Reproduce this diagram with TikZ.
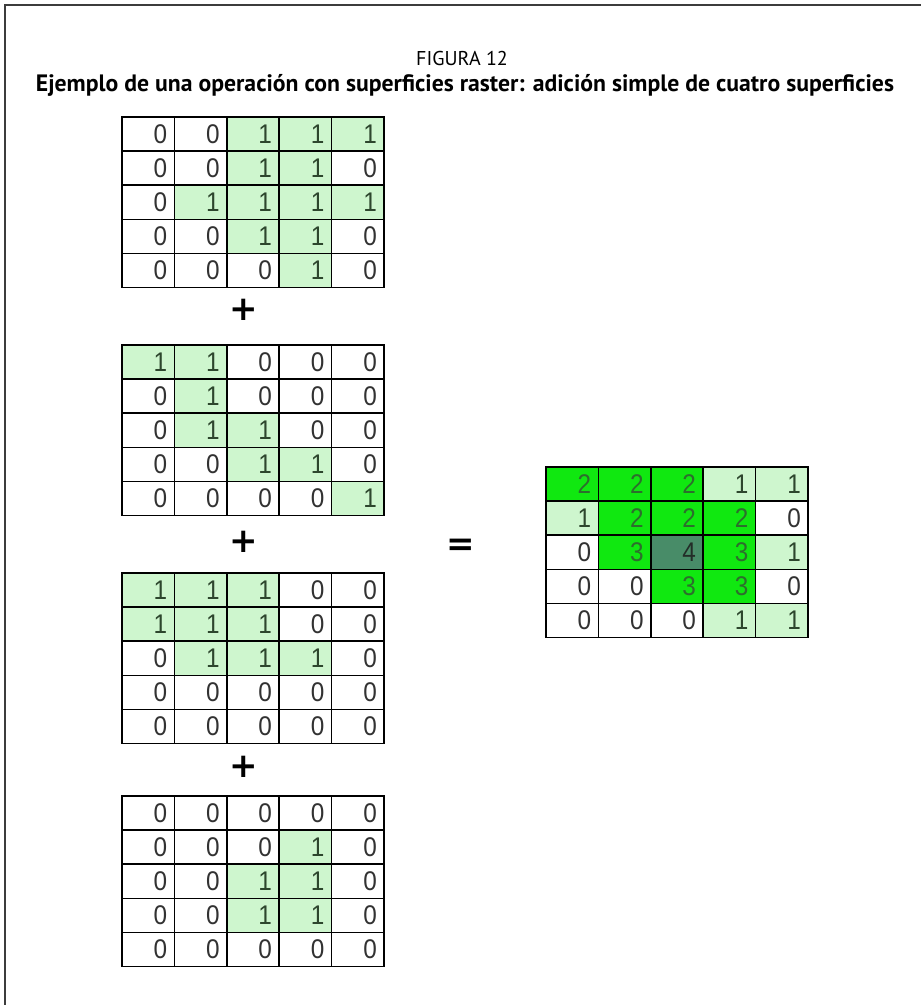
\documentclass[tikz,border=0pt]{standalone}
\usepackage{fontspec}
\setmainfont{PT Sans}
\newfontfamily\numfont[FakeStretch=0.9]{Liberation Sans}
\newfontfamily\symfont{DejaVu Sans}
\definecolor{c0}{RGB}{255,255,255}
\definecolor{c1}{RGB}{206,246,206}
\definecolor{c2}{RGB}{16,232,16}
\definecolor{c3}{RGB}{16,232,16}
\definecolor{c4}{RGB}{72,140,104}
\definecolor{t0}{RGB}{50,50,50}
\definecolor{t1}{RGB}{45,70,45}
\definecolor{t2}{RGB}{45,110,45}
\definecolor{t3}{RGB}{45,110,45}
\definecolor{t4}{RGB}{35,45,40}
\definecolor{framec}{RGB}{60,60,60}
\tikzset{
  cellbox/.style={draw=black, line width=1.6pt, minimum width=52.4pt, minimum height=34.1pt,
    inner sep=0pt, text width=38pt, align=right, font=\numfont\fontsize{27}{29}\selectfont},
  opsign/.style={font=\symfont\bfseries\fontsize{34}{36}\selectfont, inner sep=0pt},
  frameline/.style={draw=framec, line width=1.6pt},
  titletext/.style={inner sep=0pt, anchor=base}
}
\newcommand\rastergrid[4]{%
  \foreach \v [count=\i from 0] in {#4} {%
    \pgfmathtruncatemacro\rr{int(\i/5)}%
    \pgfmathtruncatemacro\cc{mod(\i,5)}%
    \node[cellbox, fill=c\v, text=t\v] (#1-\rr-\cc) at ({#2+\cc*52.4+26.2},{#3+\rr*34.1+17.05}) {\v};
  }%
}
\begin{document}
\begin{tikzpicture}[x=1pt,y=-1pt]
\useasboundingbox (0,0) rectangle (921,1005);
\fill[white] (0,0) rectangle (921,1005);
\draw[frameline] (5,1005) -- (5,5) -- (921,5);
\node[titletext] (fig) at (462,65) {\fontsize{20}{23}\selectfont FIGURA 12};
\node[titletext] (title) at (465,91) {\resizebox{858pt}{!}{\bfseries Ejemplo de una operación con superficies raster: adición simple de cuatro superficies}};
\rastergrid{ga}{122}{117}{0,0,1,1,1, 0,0,1,1,0, 0,1,1,1,1, 0,0,1,1,0, 0,0,0,1,0}
\rastergrid{gb}{122}{345}{1,1,0,0,0, 0,1,0,0,0, 0,1,1,0,0, 0,0,1,1,0, 0,0,0,0,1}
\rastergrid{gc}{122}{573}{1,1,1,0,0, 1,1,1,0,0, 0,1,1,1,0, 0,0,0,0,0, 0,0,0,0,0}
\rastergrid{gd}{122}{796}{0,0,0,0,0, 0,0,0,1,0, 0,0,1,1,0, 0,0,1,1,0, 0,0,0,0,0}
\rastergrid{gr}{546}{467}{2,2,2,1,1, 1,2,2,2,0, 0,3,4,3,1, 0,0,3,3,0, 0,0,0,1,1}
\node[opsign] (plusa) at (244,310) {+};
\node[opsign] (plusb) at (244,542) {+};
\node[opsign] (plusc) at (244,767) {+};
\node[opsign] (equals) at (461,547) {=};
\end{tikzpicture}
\end{document}
